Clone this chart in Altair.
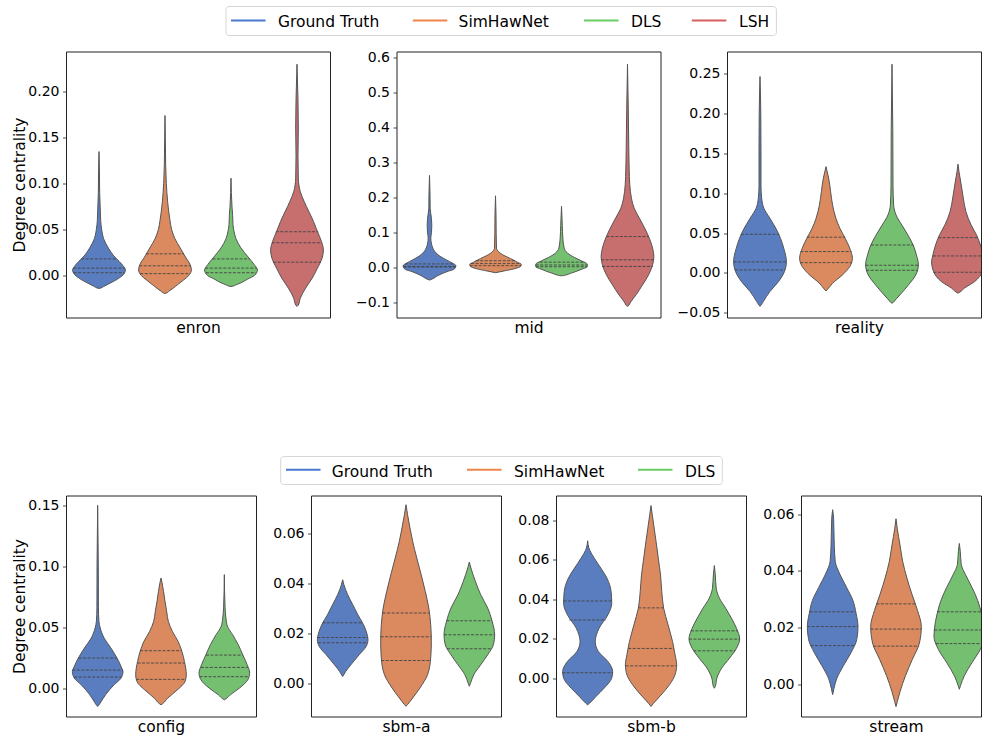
import altair as alt
import pandas as pd

# ---------------- data ----------------
METHODS = ["Ground Truth", "SimHawNet", "DLS", "LSH"]
LINE_COLORS = ["#4878d0", "#ee854a", "#6acc64", "#d65f5f"]
FILL_COLORS = ["#597dbf", "#da8a5e", "#75bf71", "#c76e6e"]

TOP_DATASETS = ["enron", "mid", "reality"]
BOTTOM_DATASETS = ["config", "sbm-a", "sbm-b", "stream"]

# violin outlines: (degree centrality value, half width in category units)
ENRON = {
    "Ground Truth": [(-0.014, 0.0), (-0.0135, 0.03), (-0.012, 0.07), (-0.009, 0.15), (-0.006, 0.23), (-0.003, 0.30),
                     (0.002, 0.38), (0.006, 0.40), (0.010, 0.37), (0.015, 0.31), (0.020, 0.24), (0.030, 0.14),
                     (0.040, 0.07), (0.050, 0.04), (0.060, 0.025), (0.070, 0.02), (0.090, 0.01), (0.120, 0.005),
                     (0.1345, 0.0)],
    "SimHawNet": [(-0.0195, 0.0), (-0.019, 0.025), (-0.017, 0.06), (-0.014, 0.12), (-0.010, 0.19), (-0.005, 0.28),
                  (0.000, 0.36), (0.006, 0.40), (0.012, 0.38), (0.020, 0.31), (0.030, 0.23), (0.040, 0.15),
                  (0.050, 0.10), (0.060, 0.075), (0.080, 0.04), (0.100, 0.02), (0.120, 0.01), (0.150, 0.005),
                  (0.1736, 0.0)],
    "DLS": [(-0.012, 0.0), (-0.0115, 0.03), (-0.010, 0.08), (-0.008, 0.15), (-0.004, 0.25), (0.000, 0.355),
            (0.006, 0.40), (0.012, 0.35), (0.020, 0.26), (0.030, 0.15), (0.040, 0.075), (0.050, 0.04), (0.055, 0.03),
            (0.065, 0.025), (0.075, 0.015), (0.090, 0.005), (0.1056, 0.0)],
    "LSH": [(-0.0336, 0.0), (-0.032, 0.02), (-0.0246, 0.05), (-0.0138, 0.13), (-0.0029, 0.23), (0.008, 0.31),
            (0.0188, 0.38), (0.0278, 0.40), (0.0369, 0.37), (0.0477, 0.31), (0.0586, 0.25), (0.0694, 0.18),
            (0.080, 0.11), (0.091, 0.05), (0.1056, 0.02), (0.130, 0.015), (0.160, 0.02), (0.190, 0.015),
            (0.2293, 0.0)],
}
ENRON_Q = {
    "Ground Truth": [(0.003, 0.385), (0.008, 0.39), (0.018, 0.27)],
    "SimHawNet": [(0.002, 0.375), (0.0105, 0.39), (0.0235, 0.285)],
    "DLS": [(0.003, 0.38), (0.008, 0.39), (0.018, 0.28)],
    "LSH": [(0.0144, 0.36), (0.0355, 0.38), (0.0475, 0.32)],
}

MID = {
    "Ground Truth": [(-0.035, 0.0), (-0.032, 0.04), (-0.022, 0.13), (-0.012, 0.25), (-0.003, 0.38), (0.006, 0.40),
                     (0.013, 0.35), (0.023, 0.25), (0.037, 0.13), (0.056, 0.05), (0.085, 0.02), (0.10, 0.03),
                     (0.12, 0.035), (0.14, 0.03), (0.17, 0.01), (0.21, 0.008), (0.263, 0.0)],
    "SimHawNet": [(-0.014, 0.0), (-0.009, 0.13), (-0.003, 0.28), (0.004, 0.38), (0.010, 0.39), (0.016, 0.33),
                  (0.026, 0.23), (0.035, 0.13), (0.047, 0.04), (0.056, 0.015), (0.10, 0.01), (0.15, 0.008),
                  (0.205, 0.0)],
    "DLS": [(-0.023, 0.0), (-0.022, 0.03), (-0.015, 0.15), (-0.006, 0.28), (0.004, 0.39), (0.010, 0.39),
            (0.020, 0.30), (0.029, 0.20), (0.042, 0.09), (0.056, 0.04), (0.085, 0.02), (0.12, 0.012), (0.175, 0.0)],
    "LSH": [(-0.11, 0.0), (-0.107, 0.02), (-0.10, 0.04), (-0.077, 0.13), (-0.048, 0.23), (-0.020, 0.32),
            (0.0085, 0.38), (0.032, 0.40), (0.056, 0.38), (0.0845, 0.33), (0.113, 0.26), (0.1415, 0.18),
            (0.17, 0.10), (0.198, 0.06), (0.236, 0.035), (0.284, 0.025), (0.33, 0.02), (0.45, 0.012), (0.58, 0.0)],
}
MID_Q = {
    "Ground Truth": [(0.002, 0.39), (0.004, 0.40), (0.011, 0.37)],
    "SimHawNet": [(0.006, 0.39), (0.012, 0.37), (0.020, 0.30)],
    "DLS": [(0.003, 0.39), (0.008, 0.39), (0.016, 0.33)],
    "LSH": [(0.0038, 0.385), (0.0228, 0.40), (0.089, 0.32)],
}

REALITY = {
    "Ground Truth": [(-0.042, 0.0), (-0.040, 0.02), (-0.036, 0.05), (-0.0234, 0.15), (-0.011, 0.28), (0.0016, 0.37),
                     (0.014, 0.40), (0.031, 0.36), (0.0435, 0.31), (0.056, 0.24), (0.0686, 0.15), (0.081, 0.06),
                     (0.094, 0.025), (0.11, 0.015), (0.15, 0.015), (0.20, 0.012), (0.2466, 0.0)],
    "SimHawNet": [(-0.0226, 0.0), (-0.021, 0.02), (-0.019, 0.04), (-0.013, 0.10), (-0.0025, 0.25), (0.0079, 0.36),
                  (0.0183, 0.40), (0.031, 0.36), (0.0435, 0.29), (0.056, 0.21), (0.0686, 0.15), (0.085, 0.10),
                  (0.102, 0.07), (0.119, 0.04), (0.128, 0.015), (0.1335, 0.0)],
    "DLS": [(-0.038, 0.0), (-0.037, 0.02), (-0.034, 0.05), (-0.0276, 0.12), (-0.015, 0.25), (-0.0025, 0.36),
            (0.010, 0.40), (0.0226, 0.37), (0.035, 0.32), (0.0477, 0.24), (0.060, 0.15), (0.073, 0.06),
            (0.085, 0.025), (0.11, 0.015), (0.18, 0.012), (0.262, 0.0)],
    "LSH": [(-0.0255, 0.0), (-0.024, 0.03), (-0.019, 0.10), (-0.011, 0.25), (0.0016, 0.37), (0.014, 0.40),
            (0.0226, 0.38), (0.035, 0.34), (0.0477, 0.28), (0.060, 0.20), (0.077, 0.12), (0.094, 0.08),
            (0.110, 0.05), (0.127, 0.015), (0.1365, 0.0)],
}
REALITY_Q = {
    "Ground Truth": [(0.0037, 0.38), (0.0138, 0.40), (0.0485, 0.29)],
    "SimHawNet": [(0.0129, 0.39), (0.0268, 0.385), (0.0448, 0.29)],
    "DLS": [(0.0033, 0.39), (0.0096, 0.40), (0.035, 0.32)],
    "LSH": [(0.0008, 0.37), (0.0213, 0.38), (0.0443, 0.30)],
}

CONFIG = {
    "Ground Truth": [(-0.0148, 0.0), (-0.014, 0.015), (-0.012, 0.04), (-0.0052, 0.125), (0.003, 0.26),
                     (0.0085, 0.37), (0.0139, 0.40), (0.0167, 0.38), (0.0249, 0.305), (0.033, 0.21),
                     (0.041, 0.105), (0.0495, 0.04), (0.055, 0.02), (0.066, 0.012), (0.10, 0.01), (0.150, 0.0)],
    "SimHawNet": [(-0.0134, 0.0), (-0.0125, 0.025), (-0.008, 0.105), (-0.0011, 0.26), (0.0057, 0.38), (0.0112, 0.40),
                  (0.0221, 0.37), (0.0303, 0.33), (0.0385, 0.27), (0.0467, 0.18), (0.055, 0.115), (0.063, 0.09),
                  (0.0713, 0.063), (0.0795, 0.04), (0.087, 0.015), (0.0904, 0.0)],
    "DLS": [(-0.0093, 0.0), (-0.0085, 0.025), (-0.0052, 0.095), (0.0003, 0.24), (0.0071, 0.37), (0.0126, 0.40),
            (0.0194, 0.36), (0.0276, 0.29), (0.0358, 0.22), (0.044, 0.13), (0.0508, 0.05), (0.0577, 0.025),
            (0.066, 0.012), (0.0932, 0.0)],
}
CONFIG_Q = {
    "Ground Truth": [(0.0093, 0.37), (0.015, 0.40), (0.0249, 0.30)],
    "SimHawNet": [(0.0074, 0.39), (0.0208, 0.37), (0.0309, 0.33)],
    "DLS": [(0.0096, 0.39), (0.0172, 0.37), (0.0273, 0.29)],
}

SBM_A = {
    "Ground Truth": [(0.0029, 0.0), (0.0035, 0.015), (0.0048, 0.045), (0.0076, 0.13), (0.0116, 0.26), (0.0149, 0.37),
                     (0.0176, 0.40), (0.0203, 0.38), (0.0236, 0.33), (0.0276, 0.24), (0.0316, 0.16), (0.0356, 0.08),
                     (0.0396, 0.02), (0.0416, 0.0)],
    "SimHawNet": [(-0.009, 0.0), (-0.0083, 0.025), (-0.0057, 0.105), (-0.0017, 0.22), (0.0036, 0.34), (0.0103, 0.39),
                  (0.0169, 0.40), (0.0236, 0.39), (0.0303, 0.36), (0.0369, 0.305), (0.0436, 0.24), (0.0503, 0.17),
                  (0.057, 0.105), (0.0623, 0.063), (0.0676, 0.025), (0.0716, 0.0)],
    "DLS": [(-0.001, 0.0), (0.0, 0.015), (0.0036, 0.07), (0.0076, 0.18), (0.0116, 0.29), (0.0156, 0.38),
            (0.0196, 0.40), (0.025, 0.36), (0.0303, 0.29), (0.0356, 0.18), (0.041, 0.095), (0.0463, 0.025),
            (0.0487, 0.0)],
}
SBM_A_Q = {
    "Ground Truth": [(0.0164, 0.39), (0.0185, 0.40), (0.0244, 0.32)],
    "SimHawNet": [(0.0093, 0.39), (0.0188, 0.40), (0.0283, 0.37)],
    "DLS": [(0.014, 0.35), (0.0196, 0.40), (0.0252, 0.36)],
}

SBM_B = {
    "Ground Truth": [(-0.0133, 0.0), (-0.0125, 0.03), (-0.0091, 0.13), (-0.0049, 0.26), (0.0002, 0.38),
                     (0.0035, 0.395), (0.0086, 0.32), (0.0136, 0.17), (0.0187, 0.12), (0.0254, 0.18),
                     (0.0322, 0.32), (0.038, 0.38), (0.044, 0.37), (0.0507, 0.305), (0.0557, 0.21),
                     (0.0608, 0.105), (0.0659, 0.02), (0.0696, 0.0)],
    "SimHawNet": [(-0.0141, 0.0), (-0.0125, 0.04), (-0.0083, 0.16), (-0.0032, 0.29), (0.0019, 0.38), (0.0069, 0.405),
                  (0.012, 0.38), (0.0187, 0.34), (0.0271, 0.27), (0.0355, 0.20), (0.044, 0.17), (0.0524, 0.15),
                  (0.0608, 0.115), (0.0692, 0.08), (0.076, 0.05), (0.0827, 0.02), (0.0874, 0.0)],
    "DLS": [(-0.0049, 0.0), (-0.004, 0.015), (0.0002, 0.04), (0.0052, 0.115), (0.0103, 0.24), (0.0153, 0.35),
            (0.020, 0.40), (0.0254, 0.35), (0.0305, 0.27), (0.0355, 0.18), (0.0406, 0.08), (0.0456, 0.03),
            (0.0524, 0.015), (0.0571, 0.0)],
}
SBM_B_Q = {
    "Ground Truth": [(0.0029, 0.40), (0.0296, 0.29), (0.0392, 0.38)],
    "SimHawNet": [(0.0064, 0.40), (0.0152, 0.36), (0.0357, 0.20)],
    "DLS": [(0.014, 0.33), (0.0199, 0.40), (0.0241, 0.37)],
}

STREAM = {
    "Ground Truth": [(-0.0036, 0.0), (-0.0015, 0.02), (0.002, 0.063), (0.0066, 0.17), (0.0112, 0.29), (0.0158, 0.38),
                     (0.0204, 0.40), (0.025, 0.37), (0.0296, 0.32), (0.0342, 0.22), (0.0388, 0.115), (0.0434, 0.04),
                     (0.0492, 0.025), (0.0584, 0.015), (0.0616, 0.0)],
    "SimHawNet": [(-0.0078, 0.0), (-0.0061, 0.02), (-0.0026, 0.063), (0.0031, 0.15), (0.0089, 0.26), (0.0146, 0.37),
                  (0.0204, 0.40), (0.0261, 0.34), (0.0319, 0.25), (0.0377, 0.17), (0.0434, 0.105), (0.0492, 0.063),
                  (0.0549, 0.02), (0.0584, 0.0)],
    "DLS": [(-0.0017, 0.0), (-0.0003, 0.02), (0.0031, 0.08), (0.0077, 0.20), (0.0123, 0.33), (0.0169, 0.40),
            (0.0192, 0.395), (0.025, 0.35), (0.0296, 0.29), (0.0342, 0.20), (0.0388, 0.095), (0.0423, 0.03),
            (0.0469, 0.015), (0.0497, 0.0)],
}
STREAM_Q = {
    "Ground Truth": [(0.0137, 0.35), (0.0204, 0.40), (0.0256, 0.36)],
    "SimHawNet": [(0.0135, 0.36), (0.0195, 0.40), (0.0284, 0.31)],
    "DLS": [(0.0144, 0.37), (0.0192, 0.395), (0.0256, 0.35)],
}

# y axis domains and ticks
Y_DOMAIN = {
    "enron": [-0.0456, 0.2431], "mid": [-0.1416, 0.616], "reality": [-0.056, 0.278],
    "config": [-0.023, 0.158], "sbm-a": [-0.0131, 0.0753], "sbm-b": [-0.0192, 0.0925], "stream": [-0.0113, 0.0666],
}
Y_TICKS = {
    "enron": [0.0, 0.05, 0.10, 0.15, 0.20],
    "mid": [-0.1, 0.0, 0.1, 0.2, 0.3, 0.4, 0.5, 0.6],
    "reality": [-0.05, 0.0, 0.05, 0.10, 0.15, 0.20, 0.25],
    "config": [0.0, 0.05, 0.10, 0.15],
    "sbm-a": [0.0, 0.02, 0.04, 0.06],
    "sbm-b": [0.0, 0.02, 0.04, 0.06, 0.08],
    "stream": [0.0, 0.02, 0.04, 0.06],
}
Y_FORMAT = {"enron": ".2f", "mid": ".1f", "reality": ".2f", "config": ".2f",
            "sbm-a": ".2f", "sbm-b": ".2f", "stream": ".2f"}
Y_TITLE = "Degree centrality"

# ---------------- layout / style ----------------
FONT = "DejaVu Sans"
TOP_W, TOP_H = 264, 266
BOT_W, BOT_H = 190, 221

# legend layout, in pixels relative to the first panel of the row
TOP_LEGEND = dict(box=(160, -45, 710.4, -16), line_x=[165, 346.8, 518, 625.8], line_y=-31,
                  text_x=[212, 392.6, 565, 673], text_y=-25)
BOT_LEGEND = dict(box=(214.7, -39, 656.3, -11), line_x=[220, 401, 572], line_y=-25.7,
                  text_x=[265.7, 448, 619], text_y=-19)
LINE_LEN = 34.5


def legend_layers(spec, n):
    x1, y1, x2, y2 = spec["box"]
    one = pd.DataFrame({"a": [0]})
    layers = [alt.Chart(one).mark_rect(fill="white", fillOpacity=0.8, stroke="#d6d6d6", strokeWidth=1,
                                       cornerRadius=3).encode(
        x=alt.value(x1), x2=alt.value(x2), y=alt.value(y1), y2=alt.value(y2))]
    for i in range(n):
        d = pd.DataFrame({"method": [METHODS[i]]})
        lx = spec["line_x"][i]
        layers.append(alt.Chart(d).mark_rule(strokeWidth=2).encode(
            x=alt.value(lx), x2=alt.value(lx + LINE_LEN), y=alt.value(spec["line_y"]),
            color=alt.value(LINE_COLORS[i])))
        layers.append(alt.Chart(d).mark_text(font=FONT, fontSize=15.5, align="left", baseline="alphabetic",
                                             color="black").encode(
            x=alt.value(spec["text_x"][i]), y=alt.value(spec["text_y"]), text="method:N"))
    return layers


def panel(name, prof, quart, n, width, height, full_width, first, legend=None):
    rows, qrows = [], []
    for k, m in enumerate(METHODS[:n]):
        for v, w in prof[m]:
            rows.append({"method": m, "k": k, "value": v, "hw": w})
        for v, w in quart[m]:
            qrows.append({"method": m, "k": k, "value": v, "hw": w})
    df = pd.DataFrame(rows).sort_values(["method", "value"])
    qdf = pd.DataFrame(qrows)

    xdom = [-0.5, -0.5 + n * width / full_width]
    xs = alt.Scale(domain=xdom, nice=False, zero=False)
    ys = alt.Scale(domain=Y_DOMAIN[name], nice=False, zero=False)
    xaxis = alt.Axis(labels=False, ticks=False, domain=False, grid=False, title=name,
                     titleX=full_width / 2, titlePadding=3, titleFontSize=15.5)
    ykw = dict(values=Y_TICKS[name], format=Y_FORMAT[name], grid=False, domain=False)
    if first:
        ykw["title"] = Y_TITLE
    else:
        ykw["title"] = None
    yaxis = alt.Axis(**ykw)
    fill = alt.Fill("method:N", scale=alt.Scale(domain=METHODS[:n], range=FILL_COLORS[:n]), legend=None)

    areas = alt.Chart(df).transform_calculate(
        lo="datum.k - datum.hw", hi="datum.k + datum.hw"
    ).mark_area(orient="horizontal", interpolate="monotone", stroke="#555555", strokeWidth=1,
                fillOpacity=1, clip=True).encode(
        y=alt.Y("value:Q", scale=ys, axis=yaxis),
        x=alt.X("lo:Q", scale=xs, axis=xaxis, stack=None),
        x2="hi:Q",
        fill=fill,
    )
    rules = alt.Chart(qdf).transform_calculate(
        lo="datum.k - datum.hw", hi="datum.k + datum.hw"
    ).mark_rule(color="#444444", strokeWidth=0.9, strokeDash=[3, 1.5], clip=True).encode(
        y=alt.Y("value:Q", scale=ys, axis=yaxis),
        x=alt.X("lo:Q", scale=xs, axis=xaxis),
        x2="hi:Q",
        detail="method:N",
    )
    layers = [areas, rules]
    if legend is not None:
        layers += legend_layers(legend, n)
    return alt.layer(*layers).properties(width=width, height=height)


enron = panel("enron", ENRON, ENRON_Q, 4, TOP_W, TOP_H, TOP_W, True, TOP_LEGEND)
mid = panel("mid", MID, MID_Q, 4, TOP_W, TOP_H, TOP_W, False)
reality = panel("reality", REALITY, REALITY_Q, 4, 254, TOP_H, TOP_W, False)

config = panel("config", CONFIG, CONFIG_Q, 3, BOT_W, BOT_H, BOT_W, True, BOT_LEGEND)
sbma = panel("sbm-a", SBM_A, SBM_A_Q, 3, BOT_W, BOT_H, BOT_W, False)
sbmb = panel("sbm-b", SBM_B, SBM_B_Q, 3, BOT_W, BOT_H, BOT_W, False)
stream = panel("stream", STREAM, STREAM_Q, 3, 180, BOT_H, BOT_W, False)

row1 = alt.hconcat(enron, mid, reality, spacing=66.5, bounds="flush")
row2 = alt.hconcat(config, sbma, sbmb, stream, spacing=55, bounds="flush")

chart = alt.vconcat(row1, row2, spacing=119).properties(
    padding={"left": 12, "top": 5.5, "right": 0, "bottom": 0}
).configure(font=FONT).configure_view(
    stroke="#222222", strokeWidth=1
).configure_axis(
    labelFont=FONT, titleFont=FONT, labelFontSize=14, titleFontSize=15.5,
    labelColor="black", titleColor="black", titleFontWeight="normal",
    tickColor="#222222", tickSize=3.5, tickWidth=0.8, labelPadding=3.5, titlePadding=0,
)

chart.save("out.html", embed_options={"renderer": "svg", "actions": False})
